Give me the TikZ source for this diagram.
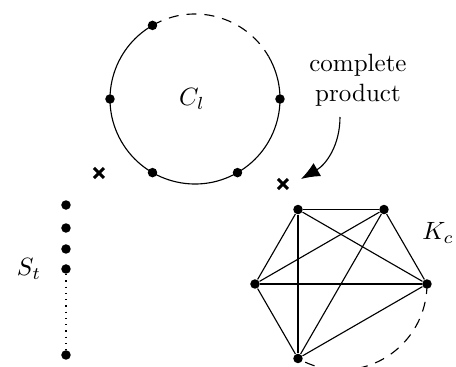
\documentclass[tikz,border=0pt]{standalone}
\usetikzlibrary{arrows.meta,calc}
\begin{document}
\begin{tikzpicture}[x=0.4pt,y=-0.4pt,
  vtx/.style={circle,fill=black,inner sep=0pt,minimum size=3.8pt},
  edge/.style={line width=0.45pt},
  crossmark/.style={line width=1.2pt},
  lbl/.style={inner sep=0pt}]
\useasboundingbox (0,0) rectangle (456,367);
% cycle C_l (angles negated because y axis points down)
\coordinate (cc) at (195,99);
\draw[edge] (cc) ++(-30:85) arc[start angle=-30,end angle=240,radius=85];
\draw[edge,dash pattern=on 4pt off 3.2pt] (cc) ++(-120:85) arc[start angle=-120,end angle=-30,radius=85];
\foreach \a/\n in {-120/c1,180/c2,120/c3,60/c4,0/c5}
  \node[vtx] (\n) at ($(cc)+(\a:85)$) {};
\node[lbl] (cl) at (192,99) {$C_l$};
% crosses
\coordinate (x1) at (99,173);
\coordinate (x2) at (283,184);
\draw[crossmark] ($(x1)+(-5,-5)$) -- ($(x1)+(5,5)$) ($(x1)+(-5,5)$) -- ($(x1)+(5,-5)$);
\draw[crossmark] ($(x2)+(-5,-5)$) -- ($(x2)+(5,5)$) ($(x2)+(-5,5)$) -- ($(x2)+(5,-5)$);
% complete product
\node[lbl,align=center] (cp) at (358,80) {complete\\product};
\coordinate (arrs) at (340,117);
\coordinate (arre) at (301,179);
\draw[edge,-{Latex[length=7.5pt,width=6pt]}] (arrs) to[out=-90,in=30] (arre);
% S_t
\foreach \y/\n in {205/s1,228/s2,249/s3,269/s4,355/s5}
  \node[vtx] (\n) at (66,\y) {};
\draw[dotted,line width=0.5pt] (s4) -- (s5);
\node[lbl] (st) at (29,269) {$S_t$};
% K_c
\coordinate (kc) at (341,284);
\foreach \a/\n in {-120/k1,-60/k2,180/k3,0/k4,120/k5}
  \node[vtx] (\n) at ($(kc)+(\a:86)$) {};
\foreach \u/\v in {k1/k2,k1/k3,k1/k4,k1/k5,k2/k3,k2/k4,k2/k5,k3/k4,k3/k5,k4/k5}
  \draw[edge] (\u) -- (\v);
\draw[edge,dash pattern=on 4pt off 3.2pt] (kc) ++(0:86) arc[start angle=0,end angle=120,radius=86];
\node[lbl] (kcl) at (438,233) {$K_c$};
\end{tikzpicture}
\end{document}
